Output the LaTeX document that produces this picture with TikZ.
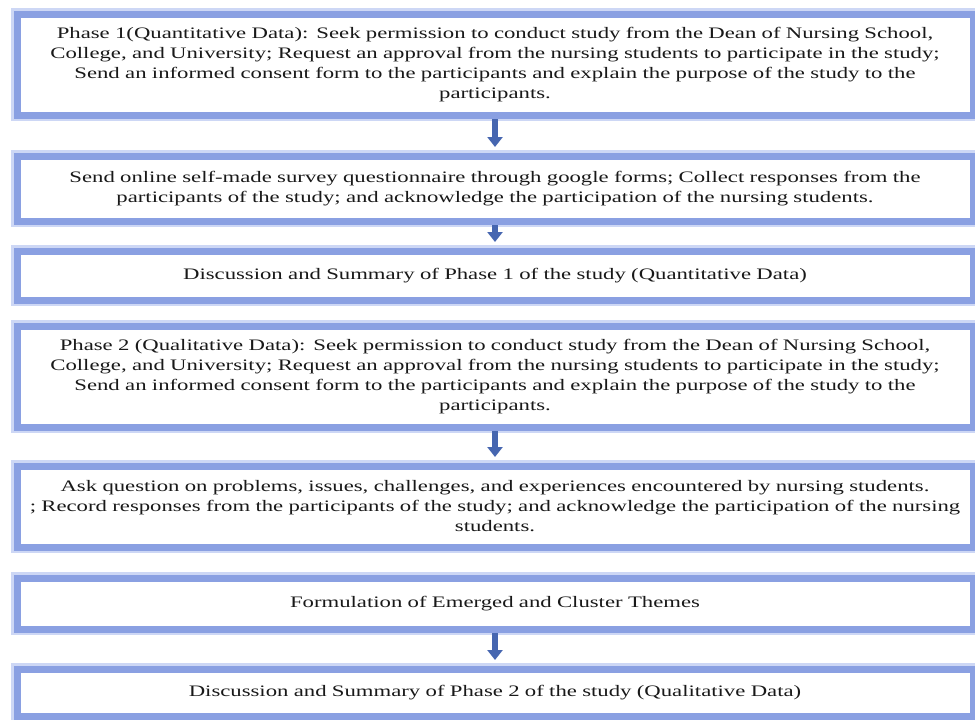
\documentclass[tikz,border=0pt]{standalone}
\usepackage{fontspec}
\setmainfont[FakeStretch=1.42]{Liberation Serif}
\usetikzlibrary{positioning,arrows.meta}

\definecolor{bandblue}{RGB}{138,160,226}
\definecolor{haloblue}{RGB}{205,215,245}
\definecolor{arrowblue}{RGB}{70,102,176}
\definecolor{textgray}{RGB}{25,25,25}

\tikzset{
  stage/.style={draw=bandblue, line width=7pt, fill=white,
    preaction={draw=haloblue, line width=12pt},
    minimum width=956pt, text width=950pt, align=center,
    inner sep=0pt, outer sep=0pt, text=textgray,
    font=\fontsize{16}{20}\selectfont},
  flow/.style={arrowblue, line width=6pt,
    -{Triangle[width=15pt,length=10pt]},
    shorten <=4pt, shorten >=9pt}
}

\begin{document}
\begin{tikzpicture}
  \useasboundingbox (0,0) rectangle (975pt,-720pt);

  \node[stage, minimum height=101pt] (b1) at (495pt,-64.5pt)
    {Phase 1(Quantitative Data): Seek permission to conduct study from the Dean of Nursing School,\\
     College, and University; Request an approval from the nursing students to participate in the study;\\
     Send an informed consent form to the participants and explain the purpose of the study to the\\
     participants.};
  \node[stage, minimum height=65pt, below=41pt of b1] (b2)
    {Send online self-made survey questionnaire through google forms; Collect responses from the\\
     participants of the study; and acknowledge the participation of the nursing students.};
  \node[stage, minimum height=49pt, below=30pt of b2] (b3)
    {Discussion and Summary of Phase 1 of the study (Quantitative Data)};
  \node[stage, minimum height=101pt, below=26pt of b3] (b4)
    {Phase 2 (Qualitative Data): Seek permission to conduct study from the Dean of Nursing School,\\
     College, and University; Request an approval from the nursing students to participate in the study;\\
     Send an informed consent form to the participants and explain the purpose of the study to the\\
     participants.};
  \node[stage, minimum height=81pt, below=39pt of b4] (b5)
    {Ask question on problems, issues, challenges, and experiences encountered by nursing students.\\
     ; Record responses from the participants of the study; and acknowledge the participation of the nursing\\
     students.};
  \node[stage, minimum height=51pt, below=31pt of b5] (b6)
    {Formulation of Emerged and Cluster Themes};
  \node[stage, minimum height=47pt, below=40pt of b6] (b7)
    {Discussion and Summary of Phase 2 of the study (Qualitative Data)};

  \draw[flow] (b1.south) -- (b2.north);
  \draw[flow] (b2.south) -- (b3.north);
  \draw[flow] (b4.south) -- (b5.north);
  \draw[flow] (b6.south) -- (b7.north);
\end{tikzpicture}
\end{document}
